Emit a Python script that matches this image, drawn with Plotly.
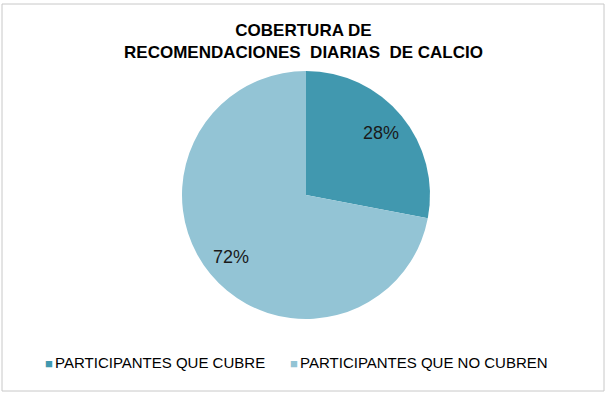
import math
import plotly.graph_objects as go

labels = ["PARTICIPANTES QUE CUBRE", "PARTICIPANTES QUE NO CUBREN"]
values = [28, 72]
colors = ["#4198AF", "#93C4D5"]
title_lines = ["COBERTURA DE", "RECOMENDACIONES  DIARIAS  DE CALCIO"]

W, H = 607, 393
cx, cy, r = 306, 195, 124
FONT = "Liberation Sans, Arial, sans-serif"

fig = go.Figure(go.Pie(
    labels=labels, values=values, sort=False, direction="clockwise", rotation=0,
    marker=dict(colors=colors, line=dict(width=0)),
    textinfo="none",
    domain=dict(x=[(cx - r) / W, (cx + r) / W], y=[1 - (cy + r) / H, 1 - (cy - r) / H]),
    hoverinfo="skip", showlegend=False,
))

annotations = []
# percentage labels, placed along each slice bisector from the data values
total = sum(values)
cum = 0
for v in values:
    mid = (cum + v / 2) / total * 2 * math.pi
    cum += v
    px = cx + 0.78 * r * math.sin(mid)
    py = cy - 0.78 * r * math.cos(mid)
    annotations.append(dict(
        x=px / W, y=1 - py / H, xref="paper", yref="paper", showarrow=False,
        text=f"{round(v / total * 100)}%", xanchor="center", yanchor="middle",
        font=dict(family=FONT, size=18, color="#1a1a1a")))

# legend entries
legend_x = [43, 288]
for lab, col, lx in zip(labels, colors, legend_x):
    annotations.append(dict(
        x=lx / W, y=1 - 362 / H, xref="paper", yref="paper", showarrow=False,
        xanchor="left", yanchor="middle",
        text=f'<span style="color:{col};font-size:13px">■</span><span style="font-size:8px"> </span>{lab}',
        font=dict(family=FONT, size=15, color="#000000")))

fig.update_layout(
    width=W, height=H, margin=dict(l=0, r=0, t=0, b=0),
    paper_bgcolor="white", plot_bgcolor="white",
    title=dict(text="<br>".join(title_lines),
               x=0.5, xanchor="center", y=1 - 36 / H, yanchor="top",
               font=dict(family=FONT, size=17, color="#000000", weight="bold")),
    annotations=annotations,
    shapes=[dict(type="rect", xref="paper", yref="paper", x0=2 / W, x1=1 - 3 / W,
                 y0=2 / H, y1=1 - 4 / H, line=dict(color="#C8C8C8", width=1))],
)
fig.write_html("out.html")
